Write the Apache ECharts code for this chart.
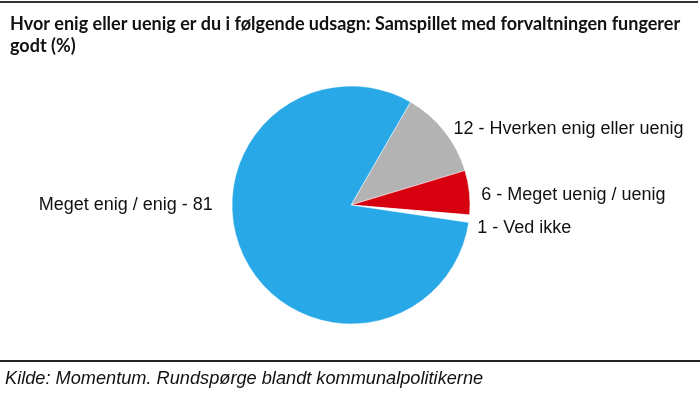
<!DOCTYPE html>
<html>
<head>
<meta charset="utf-8">
<script src="https://cdn.jsdelivr.net/npm/echarts@6/dist/echarts.min.js"></script>
<style>html,body{margin:0;padding:0;background:#fff;}#c{width:700px;height:394px;}</style>
</head>
<body>
<div id="c"></div>
<script>
var titleText = 'Hvor enig eller uenig er du i følgende udsagn: Samspillet med forvaltningen fungerer godt (%)';
var sourceText = 'Kilde: Momentum. Rundspørge blandt kommunalpolitikerne';
var categories = ['Hverken enig eller uenig', 'Meget uenig / uenig', 'Ved ikke', 'Meget enig / enig'];
var values = [12, 6, 1, 81];
var colors = ['#b3b3b3', '#d7000f', '#ffffff', '#29a8e8'];

var chart = echarts.init(document.getElementById('c'), null, {renderer: 'canvas'});
var data = categories.map(function (c, i) {
  return {name: c, value: values[i], itemStyle: {color: colors[i]}};
});
var labelShiftY = [0, 3, 9, 0];
var labelShiftX = [-1, 1, -3, 0];
chart.setOption({
  animation: false,
  backgroundColor: '#fff',
  title: {
    text: titleText,
    left: 5, top: 8,
    textStyle: {fontFamily: 'Lato', fontWeight: 'bold', fontSize: 18, color: '#111', width: 690, overflow: 'break', lineHeight: 22}
  },
  graphic: [
    {type: 'rect', shape: {x: 0, y: 1, width: 698, height: 2}, style: {fill: '#333'}},
    {type: 'rect', shape: {x: 0, y: 360, width: 700, height: 2}, style: {fill: '#222'}},
    {type: 'text', left: 5, top: 370, style: {text: sourceText, fontFamily: 'Liberation Sans', fontStyle: 'italic', fontSize: 18.2, fill: '#111'}}
  ],
  series: [{
    type: 'pie',
    center: [351, 205],
    radius: 119,
    startAngle: 60,
    clockwise: true,
    avoidLabelOverlap: false,
    itemStyle: {borderColor: '#fff', borderWidth: 0.5},
    label: {
      show: true, position: 'outside',
      fontFamily: 'Liberation Sans', fontSize: 18, color: '#111',
      formatter: function (p) {
        return p.dataIndex === 3 ? p.name + ' - ' + p.value : p.value + ' - ' + p.name;
      }
    },
    labelLine: {show: false, length: 4, length2: 2},
    labelLayout: function (p) {
      if (p.dataIndex === 3) {
        return {x: p.rect.x - 19, y: p.rect.y + p.rect.height / 2, align: 'right', verticalAlign: 'middle'};
      }
      return {dx: labelShiftX[p.dataIndex], dy: labelShiftY[p.dataIndex]};
    },
    data: data
  }]
});
</script>
</body>
</html>
